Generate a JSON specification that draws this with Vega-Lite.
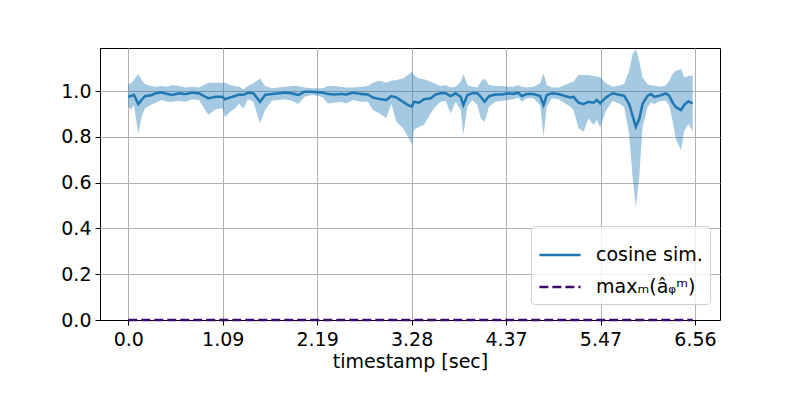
{
  "$schema": "https://vega.github.io/schema/vega-lite/v6.json",
  "width": 620,
  "height": 272,
  "autosize": {"type": "none"},
  "padding": {"left": 100, "top": 48, "right": 80, "bottom": 80},
  "config": {
    "font": "DejaVu Sans",
    "view": {"stroke": "black", "strokeWidth": 1},
    "axis": {
      "labelFontSize": 19,
      "labelColor": "black",
      "titleFontSize": 19,
      "titleFontWeight": "normal",
      "titleColor": "black",
      "domainColor": "black",
      "tickColor": "black",
      "tickSize": 5,
      "labelPadding": 5,
      "grid": true,
      "gridColor": "#b0b0b0",
      "gridWidth": 1,
      "labelFlush": false,
      "labelOverlap": false
    }
  },
  "data": {
    "values": [
      {"t": 0.000, "mean": 0.975, "lo": 0.932, "hi": 1.031, "amax": 0},
      {"t": 0.030, "mean": 0.978, "lo": 0.917, "hi": 1.034, "amax": 0},
      {"t": 0.066, "mean": 0.983, "lo": 0.939, "hi": 1.048, "amax": 0},
      {"t": 0.116, "mean": 0.943, "lo": 0.812, "hi": 1.074, "amax": 0},
      {"t": 0.155, "mean": 0.961, "lo": 0.888, "hi": 1.048, "amax": 0},
      {"t": 0.193, "mean": 0.978, "lo": 0.924, "hi": 1.031, "amax": 0},
      {"t": 0.259, "mean": 0.981, "lo": 0.939, "hi": 1.022, "amax": 0},
      {"t": 0.317, "mean": 0.990, "lo": 0.949, "hi": 1.019, "amax": 0},
      {"t": 0.386, "mean": 0.994, "lo": 0.961, "hi": 1.022, "amax": 0},
      {"t": 0.452, "mean": 0.987, "lo": 0.953, "hi": 1.019, "amax": 0},
      {"t": 0.510, "mean": 0.983, "lo": 0.953, "hi": 1.026, "amax": 0},
      {"t": 0.587, "mean": 0.990, "lo": 0.958, "hi": 1.022, "amax": 0},
      {"t": 0.664, "mean": 0.987, "lo": 0.953, "hi": 1.016, "amax": 0},
      {"t": 0.742, "mean": 0.993, "lo": 0.964, "hi": 1.019, "amax": 0},
      {"t": 0.819, "mean": 0.990, "lo": 0.961, "hi": 1.016, "amax": 0},
      {"t": 0.927, "mean": 0.968, "lo": 0.895, "hi": 1.036, "amax": 0},
      {"t": 1.012, "mean": 0.975, "lo": 0.920, "hi": 1.036, "amax": 0},
      {"t": 1.089, "mean": 0.975, "lo": 0.925, "hi": 1.036, "amax": 0},
      {"t": 1.120, "mean": 0.964, "lo": 0.885, "hi": 1.036, "amax": 0},
      {"t": 1.178, "mean": 0.972, "lo": 0.910, "hi": 1.026, "amax": 0},
      {"t": 1.236, "mean": 0.978, "lo": 0.924, "hi": 1.022, "amax": 0},
      {"t": 1.283, "mean": 0.985, "lo": 0.946, "hi": 1.019, "amax": 0},
      {"t": 1.333, "mean": 0.983, "lo": 0.924, "hi": 1.007, "amax": 0},
      {"t": 1.383, "mean": 0.993, "lo": 0.964, "hi": 1.022, "amax": 0},
      {"t": 1.449, "mean": 0.990, "lo": 0.953, "hi": 1.034, "amax": 0},
      {"t": 1.526, "mean": 0.953, "lo": 0.859, "hi": 1.055, "amax": 0},
      {"t": 1.584, "mean": 0.983, "lo": 0.917, "hi": 1.022, "amax": 0},
      {"t": 1.661, "mean": 0.987, "lo": 0.958, "hi": 1.012, "amax": 0},
      {"t": 1.739, "mean": 0.990, "lo": 0.961, "hi": 1.016, "amax": 0},
      {"t": 1.816, "mean": 0.993, "lo": 0.964, "hi": 1.019, "amax": 0},
      {"t": 1.893, "mean": 0.990, "lo": 0.958, "hi": 1.022, "amax": 0},
      {"t": 1.970, "mean": 0.983, "lo": 0.943, "hi": 1.022, "amax": 0},
      {"t": 2.040, "mean": 0.997, "lo": 0.975, "hi": 1.016, "amax": 0},
      {"t": 2.125, "mean": 0.997, "lo": 0.983, "hi": 1.012, "amax": 0},
      {"t": 2.202, "mean": 0.994, "lo": 0.978, "hi": 1.012, "amax": 0},
      {"t": 2.252, "mean": 0.993, "lo": 0.972, "hi": 1.012, "amax": 0},
      {"t": 2.310, "mean": 0.987, "lo": 0.946, "hi": 1.022, "amax": 0},
      {"t": 2.388, "mean": 0.985, "lo": 0.949, "hi": 1.022, "amax": 0},
      {"t": 2.465, "mean": 0.987, "lo": 0.953, "hi": 1.019, "amax": 0},
      {"t": 2.523, "mean": 0.985, "lo": 0.946, "hi": 1.016, "amax": 0},
      {"t": 2.600, "mean": 0.993, "lo": 0.961, "hi": 1.016, "amax": 0},
      {"t": 2.697, "mean": 0.987, "lo": 0.953, "hi": 1.019, "amax": 0},
      {"t": 2.774, "mean": 0.985, "lo": 0.953, "hi": 1.022, "amax": 0},
      {"t": 2.832, "mean": 0.972, "lo": 0.917, "hi": 1.036, "amax": 0},
      {"t": 2.909, "mean": 0.965, "lo": 0.902, "hi": 1.045, "amax": 0},
      {"t": 2.987, "mean": 0.961, "lo": 0.881, "hi": 1.036, "amax": 0},
      {"t": 3.045, "mean": 0.978, "lo": 0.946, "hi": 1.045, "amax": 0},
      {"t": 3.103, "mean": 0.972, "lo": 0.866, "hi": 1.048, "amax": 0},
      {"t": 3.180, "mean": 0.953, "lo": 0.837, "hi": 1.055, "amax": 0},
      {"t": 3.238, "mean": 0.939, "lo": 0.800, "hi": 1.070, "amax": 0},
      {"t": 3.284, "mean": 0.932, "lo": 0.765, "hi": 1.084, "amax": 0},
      {"t": 3.307, "mean": 0.953, "lo": 0.830, "hi": 1.070, "amax": 0},
      {"t": 3.365, "mean": 0.949, "lo": 0.844, "hi": 1.055, "amax": 0},
      {"t": 3.423, "mean": 0.964, "lo": 0.852, "hi": 1.051, "amax": 0},
      {"t": 3.500, "mean": 0.968, "lo": 0.902, "hi": 1.041, "amax": 0},
      {"t": 3.558, "mean": 0.985, "lo": 0.932, "hi": 1.031, "amax": 0},
      {"t": 3.616, "mean": 0.990, "lo": 0.953, "hi": 1.022, "amax": 0},
      {"t": 3.674, "mean": 0.990, "lo": 0.958, "hi": 1.026, "amax": 0},
      {"t": 3.732, "mean": 0.978, "lo": 0.902, "hi": 1.016, "amax": 0},
      {"t": 3.790, "mean": 0.990, "lo": 0.953, "hi": 1.019, "amax": 0},
      {"t": 3.848, "mean": 0.975, "lo": 0.917, "hi": 1.041, "amax": 0},
      {"t": 3.879, "mean": 0.939, "lo": 0.808, "hi": 1.074, "amax": 0},
      {"t": 3.926, "mean": 0.983, "lo": 0.932, "hi": 1.026, "amax": 0},
      {"t": 3.983, "mean": 0.990, "lo": 0.961, "hi": 1.019, "amax": 0},
      {"t": 4.041, "mean": 0.990, "lo": 0.939, "hi": 1.016, "amax": 0},
      {"t": 4.080, "mean": 0.975, "lo": 0.881, "hi": 1.041, "amax": 0},
      {"t": 4.126, "mean": 0.953, "lo": 0.866, "hi": 1.055, "amax": 0},
      {"t": 4.176, "mean": 0.978, "lo": 0.932, "hi": 1.026, "amax": 0},
      {"t": 4.253, "mean": 0.985, "lo": 0.953, "hi": 1.022, "amax": 0},
      {"t": 4.331, "mean": 0.985, "lo": 0.958, "hi": 1.022, "amax": 0},
      {"t": 4.400, "mean": 0.990, "lo": 0.961, "hi": 1.019, "amax": 0},
      {"t": 4.459, "mean": 0.987, "lo": 0.964, "hi": 1.019, "amax": 0},
      {"t": 4.517, "mean": 0.993, "lo": 0.972, "hi": 1.026, "amax": 0},
      {"t": 4.555, "mean": 0.978, "lo": 0.953, "hi": 1.019, "amax": 0},
      {"t": 4.613, "mean": 0.987, "lo": 0.968, "hi": 1.016, "amax": 0},
      {"t": 4.690, "mean": 0.987, "lo": 0.968, "hi": 1.019, "amax": 0},
      {"t": 4.768, "mean": 0.978, "lo": 0.939, "hi": 1.034, "amax": 0},
      {"t": 4.807, "mean": 0.939, "lo": 0.800, "hi": 1.077, "amax": 0},
      {"t": 4.845, "mean": 0.983, "lo": 0.932, "hi": 1.026, "amax": 0},
      {"t": 4.903, "mean": 0.990, "lo": 0.968, "hi": 1.016, "amax": 0},
      {"t": 4.980, "mean": 0.987, "lo": 0.964, "hi": 1.016, "amax": 0},
      {"t": 5.058, "mean": 0.978, "lo": 0.946, "hi": 1.026, "amax": 0},
      {"t": 5.116, "mean": 0.972, "lo": 0.932, "hi": 1.036, "amax": 0},
      {"t": 5.154, "mean": 0.975, "lo": 0.917, "hi": 1.041, "amax": 0},
      {"t": 5.212, "mean": 0.949, "lo": 0.837, "hi": 1.070, "amax": 0},
      {"t": 5.270, "mean": 0.943, "lo": 0.822, "hi": 1.070, "amax": 0},
      {"t": 5.328, "mean": 0.953, "lo": 0.881, "hi": 1.070, "amax": 0},
      {"t": 5.386, "mean": 0.949, "lo": 0.852, "hi": 1.066, "amax": 0},
      {"t": 5.424, "mean": 0.961, "lo": 0.873, "hi": 1.063, "amax": 0},
      {"t": 5.463, "mean": 0.946, "lo": 0.840, "hi": 1.060, "amax": 0},
      {"t": 5.529, "mean": 0.972, "lo": 0.914, "hi": 1.034, "amax": 0},
      {"t": 5.606, "mean": 0.990, "lo": 0.958, "hi": 1.019, "amax": 0},
      {"t": 5.683, "mean": 0.984, "lo": 0.946, "hi": 1.024, "amax": 0},
      {"t": 5.741, "mean": 0.979, "lo": 0.929, "hi": 1.031, "amax": 0},
      {"t": 5.799, "mean": 0.943, "lo": 0.812, "hi": 1.089, "amax": 0},
      {"t": 5.838, "mean": 0.892, "lo": 0.623, "hi": 1.162, "amax": 0},
      {"t": 5.876, "mean": 0.844, "lo": 0.492, "hi": 1.183, "amax": 0},
      {"t": 5.915, "mean": 0.878, "lo": 0.623, "hi": 1.132, "amax": 0},
      {"t": 5.953, "mean": 0.943, "lo": 0.841, "hi": 1.060, "amax": 0},
      {"t": 6.011, "mean": 0.979, "lo": 0.929, "hi": 1.031, "amax": 0},
      {"t": 6.050, "mean": 0.987, "lo": 0.950, "hi": 1.024, "amax": 0},
      {"t": 6.089, "mean": 0.975, "lo": 0.943, "hi": 1.024, "amax": 0},
      {"t": 6.147, "mean": 0.979, "lo": 0.955, "hi": 1.019, "amax": 0},
      {"t": 6.224, "mean": 0.990, "lo": 0.958, "hi": 1.024, "amax": 0},
      {"t": 6.263, "mean": 0.979, "lo": 0.936, "hi": 1.045, "amax": 0},
      {"t": 6.301, "mean": 0.950, "lo": 0.870, "hi": 1.074, "amax": 0},
      {"t": 6.340, "mean": 0.929, "lo": 0.790, "hi": 1.089, "amax": 0},
      {"t": 6.398, "mean": 0.917, "lo": 0.742, "hi": 1.096, "amax": 0},
      {"t": 6.437, "mean": 0.940, "lo": 0.827, "hi": 1.060, "amax": 0},
      {"t": 6.484, "mean": 0.955, "lo": 0.856, "hi": 1.067, "amax": 0},
      {"t": 6.534, "mean": 0.946, "lo": 0.824, "hi": 1.067, "amax": 0}
    ]
  },
  "layer": [
    {
      "mark": {"type": "area", "color": "#1f77b4", "opacity": 0.4},
      "encoding": {
        "x": {
          "field": "t",
          "type": "quantitative",
          "scale": {"domain": [-0.327, 6.85], "nice": false, "zero": false},
          "axis": {
            "title": "timestamp [sec]",
            "values": [0, 1.0933, 2.1867, 3.28, 4.3733, 5.4667, 6.56],
            "labelExpr": "datum.value == 0 ? '0.0' : format(datum.value, '.2f')",
            "titlePadding": 3
          }
        },
        "y": {
          "field": "lo",
          "type": "quantitative",
          "scale": {"domain": [0, 1.188], "nice": false},
          "axis": {"title": null, "values": [0, 0.2, 0.4, 0.6, 0.8, 1.0], "format": ".1f", "labelPadding": 4}
        },
        "y2": {"field": "hi"}
      }
    },
    {
      "transform": [{"fold": ["mean", "amax"], "as": ["series", "val"]}],
      "mark": {"type": "line", "strokeWidth": 2.5},
      "encoding": {
        "x": {"field": "t", "type": "quantitative"},
        "y": {"field": "val", "type": "quantitative"},
        "color": {
          "field": "series",
          "type": "nominal",
          "scale": {"domain": ["mean", "amax"], "range": ["#1f77b4", "#3b0a6b"]},
          "legend": {
            "title": null,
            "orient": "none",
            "legendX": 431,
            "legendY": 178,
            "fillColor": "rgba(255,255,255,0.8)",
            "strokeColor": "#d0d0d0",
            "cornerRadius": 4,
            "padding": 7,
            "symbolType": "stroke",
            "symbolSize": 1700,
            "symbolStrokeWidth": 2.5,
            "labelFontSize": 19,
            "labelColor": "black",
            "labelOffset": 14,
            "rowPadding": 0,
            "labelExpr": "datum.value == 'mean' ? 'cosine sim.' : 'maxₘ(âᵩᵐ)'"
          }
        },
        "strokeDash": {
          "field": "series",
          "type": "nominal",
          "scale": {"domain": ["mean", "amax"], "range": [[1, 0], [9, 4]]},
          "legend": {
            "title": null,
            "orient": "none",
            "legendX": 431,
            "legendY": 178,
            "fillColor": "rgba(255,255,255,0.8)",
            "strokeColor": "#d0d0d0",
            "cornerRadius": 4,
            "padding": 7,
            "symbolType": "stroke",
            "symbolSize": 1700,
            "symbolStrokeWidth": 2.5,
            "labelFontSize": 19,
            "labelColor": "black",
            "labelOffset": 14,
            "rowPadding": 0,
            "labelExpr": "datum.value == 'mean' ? 'cosine sim.' : 'maxₘ(âᵩᵐ)'"
          }
        }
      }
    }
  ]
}
